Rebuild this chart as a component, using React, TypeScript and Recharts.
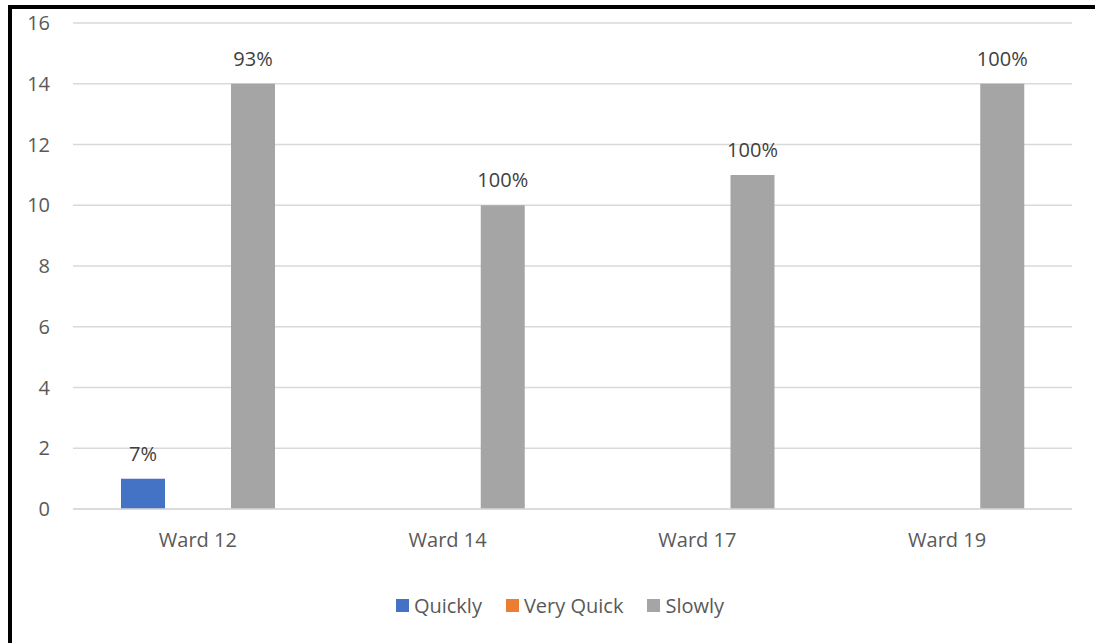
import { BarChart, Bar, XAxis, YAxis, CartesianGrid, Legend, LabelList } from 'recharts';

const wards = ['Ward 12', 'Ward 14', 'Ward 17', 'Ward 19'];
const seriesNames = ['Quickly', 'Very Quick', 'Slowly'];
const quickly = [1, 0, 0, 0];
const veryQuick = [0, 0, 0, 0];
const slowly = [14, 10, 11, 14];
const quicklyPct = ['7%', null, null, null];
const veryQuickPct = [null, null, null, null];
const slowlyPct = ['93%', '100%', '100%', '100%'];
const yTicks = [0, 2, 4, 6, 8, 10, 12, 14, 16];

const data = wards.map((ward, i) => ({
  ward,
  quickly: quickly[i],
  veryQuick: veryQuick[i],
  slowly: slowly[i],
  quicklyPct: quicklyPct[i],
  veryQuickPct: veryQuickPct[i],
  slowlyPct: slowlyPct[i],
}));

const FONT = '"Open Sans", "Noto Sans", sans-serif';
const TEXT = '#595959';
const FS = 20;

// legend keeps the series order rather than sorting by name
function LegendRow({ payload }: any) {
  const items = [...(payload || [])].sort(
    (a: any, b: any) => seriesNames.indexOf(a.value) - seriesNames.indexOf(b.value)
  );
  return (
    <div style={{ display: 'flex', justifyContent: 'center', fontFamily: FONT, fontSize: FS, color: TEXT }}>
      {items.map((item: any) => (
        <div key={item.value} style={{ display: 'flex', alignItems: 'center', margin: '0 12px' }}>
          <span style={{ width: 13, height: 13, background: item.color, marginRight: 5, display: 'inline-block' }} />
          <span>{item.value}</span>
        </div>
      ))}
    </div>
  );
}

export default function App() {
  return (
    <div style={{ position: 'fixed', left: 0, top: 0, width: 1095, height: 643, background: '#fff', overflow: 'hidden' }}>
      <div
        style={{
          position: 'absolute',
          left: 8,
          top: 5,
          width: 1087,
          height: 638,
          borderTop: '4px solid #000',
          borderLeft: '4px solid #000',
          boxSizing: 'border-box',
        }}
      />
      <div style={{ position: 'absolute', left: 0, top: 0, fontFamily: FONT }}>
        <BarChart
          width={1095}
          height={643}
          data={data}
          margin={{ top: 23, right: 23, bottom: 0, left: 0 }}
          barSize={44}
          barGap={11}
        >
          <CartesianGrid vertical={false} stroke="#D9D9D9" strokeWidth={1.5} />
          <XAxis
            dataKey="ward"
            height={134}
            tickLine={false}
            axisLine={{ stroke: '#D9D9D9', strokeWidth: 1.5 }}
            tickMargin={18}
            tick={{ fill: TEXT, fontSize: FS, fontFamily: FONT }}
          />
          <YAxis
            width={73}
            domain={[0, 16]}
            ticks={yTicks}
            tickLine={false}
            axisLine={false}
            tickMargin={17}
            tick={{ fill: TEXT, fontSize: FS, fontFamily: FONT }}
          />
          <Legend
            layout="horizontal"
            verticalAlign="middle"
            align="center"
            wrapperStyle={{ top: 592, left: 0, width: 1120 }}
            content={<LegendRow />}
          />
          <Bar dataKey="quickly" name="Quickly" fill="#4472C4" isAnimationActive={false}>
            <LabelList dataKey="quicklyPct" position="top" offset={18} fill="#404040" fontSize={FS} fontFamily={FONT} />
          </Bar>
          <Bar dataKey="veryQuick" name="Very Quick" fill="#ED7D31" isAnimationActive={false}>
            <LabelList dataKey="veryQuickPct" position="top" offset={18} fill="#404040" fontSize={FS} fontFamily={FONT} />
          </Bar>
          <Bar dataKey="slowly" name="Slowly" fill="#A5A5A5" isAnimationActive={false}>
            <LabelList dataKey="slowlyPct" position="top" offset={18} fill="#404040" fontSize={FS} fontFamily={FONT} />
          </Bar>
        </BarChart>
      </div>
    </div>
  );
}
